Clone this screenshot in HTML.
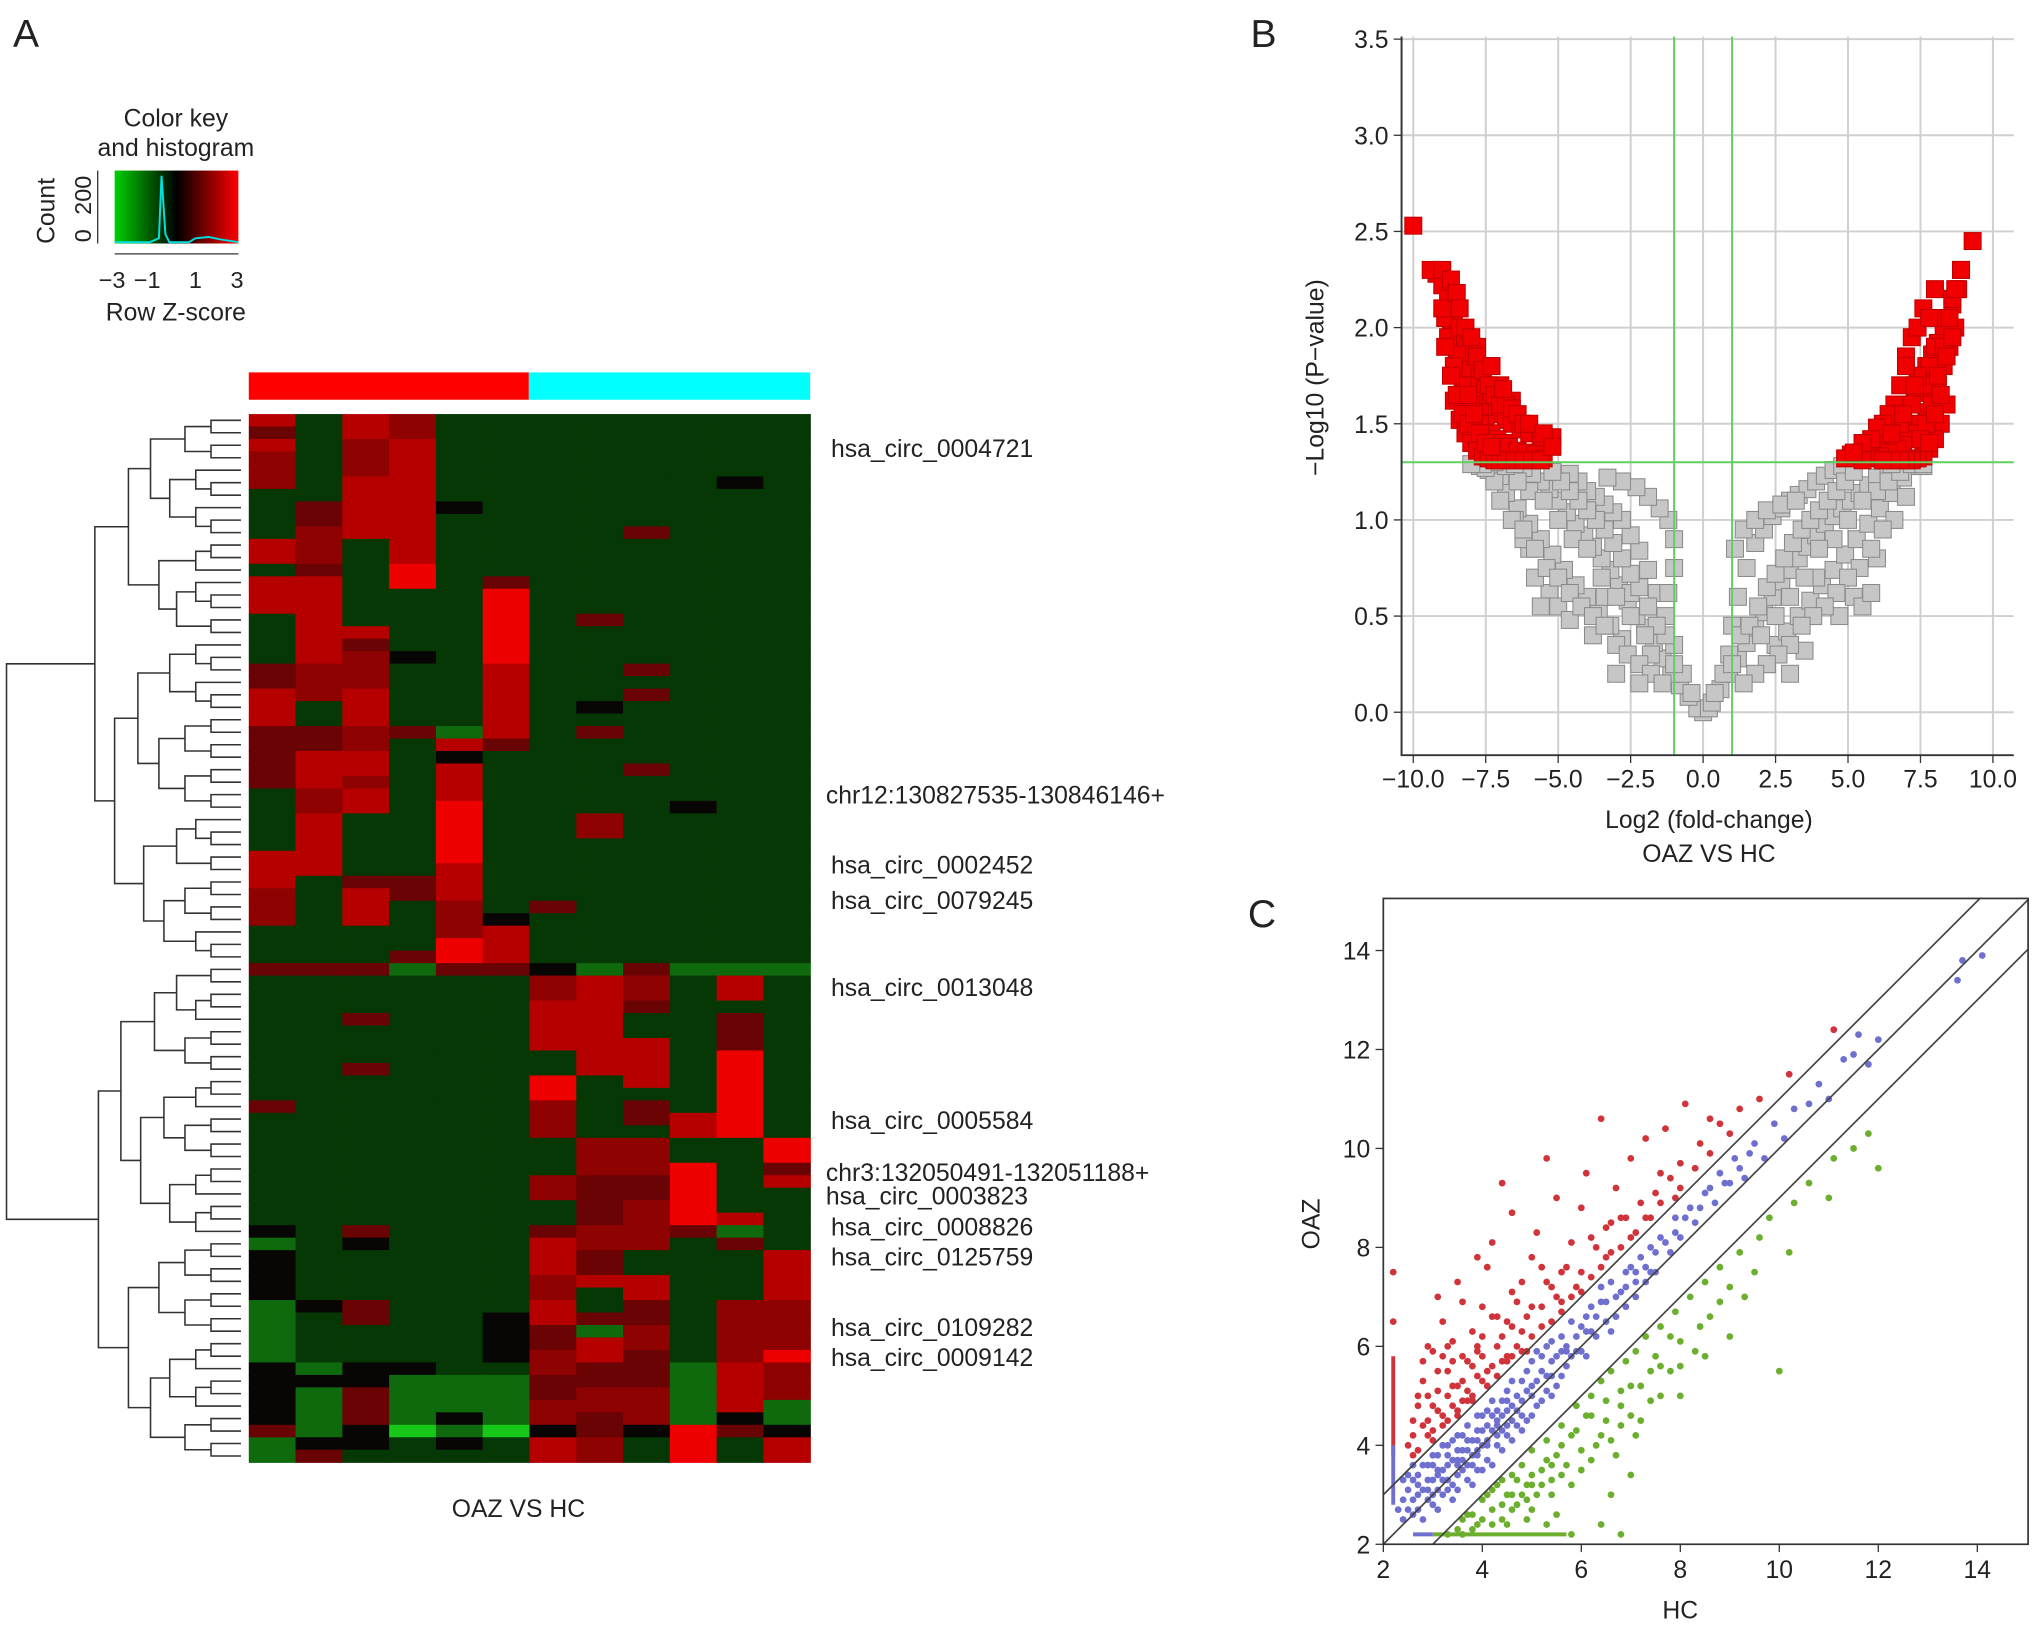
<!DOCTYPE html>
<html><head><meta charset="utf-8"><style>
html,body{margin:0;padding:0;background:#fff;}
svg{display:block;}
text{font-family:"Liberation Sans",Arial,sans-serif;fill:#222;}
</style></head><body>
<svg id="fig" xmlns="http://www.w3.org/2000/svg" width="2032" height="1625" viewBox="0 0 1560 1248" preserveAspectRatio="none">
<defs>
<linearGradient id="keyg" x1="0" x2="1" y1="0" y2="0">
<stop offset="0" stop-color="#00d000"/><stop offset="0.5" stop-color="#000"/><stop offset="1" stop-color="#ff0000"/>
</linearGradient>
<clipPath id="cclip"><rect x="1062" y="690" width="495" height="496"/></clipPath>
</defs>
<g id="panelA">
<text x="10" y="36" font-size="30">A</text>
<text x="135" y="97" font-size="19" text-anchor="middle">Color key</text>
<text x="135" y="120" font-size="19" text-anchor="middle">and histogram</text>
<rect x="88" y="131" width="95" height="56" fill="url(#keyg)"/>
<polyline points="88,186 115,186 122,183 124,135 127,180 130,186 145,186 150,183 160,182 170,184 183,186" fill="none" stroke="#00e0e0" stroke-width="1.5"/>
<text transform="translate(42,162) rotate(-90)" font-size="19" text-anchor="middle">Count</text>
<text transform="translate(70,186) rotate(-90)" font-size="18">0</text>
<text transform="translate(70,165) rotate(-90)" font-size="18">200</text>
<line x1="75" y1="131" x2="75" y2="187" stroke="#333"/>
<line x1="88" y1="195" x2="183" y2="195" stroke="#333"/>
<text x="86" y="221" font-size="18" text-anchor="middle">−3</text>
<text x="113" y="221" font-size="18" text-anchor="middle">−1</text>
<text x="150" y="221" font-size="18" text-anchor="middle">1</text>
<text x="182" y="221" font-size="18" text-anchor="middle">3</text>
<text x="135" y="246" font-size="19" text-anchor="middle">Row Z-score</text>
<rect x="191" y="286" width="215" height="21" fill="#ff0000"/>
<rect x="406" y="286" width="216" height="21" fill="#00ffff"/>
<g id="heat"></g>
<g id="dendro"></g>
<g font-size="19">
<text x="638" y="351">hsa_circ_0004721</text>
<text x="634" y="617">chr12:130827535-130846146+</text>
<text x="638" y="671">hsa_circ_0002452</text>
<text x="638" y="698">hsa_circ_0079245</text>
<text x="638" y="765">hsa_circ_0013048</text>
<text x="638" y="867">hsa_circ_0005584</text>
<text x="634" y="907">chr3:132050491-132051188+</text>
<text x="634" y="925">hsa_circ_0003823</text>
<text x="638" y="949">hsa_circ_0008826</text>
<text x="638" y="972">hsa_circ_0125759</text>
<text x="638" y="1026">hsa_circ_0109282</text>
<text x="638" y="1049">hsa_circ_0009142</text>
</g>
<text x="398" y="1165" font-size="19" text-anchor="middle">OAZ VS HC</text>
</g>
<g id="panelB">
<text x="960" y="36" font-size="30">B</text>
<g id="vgrid"></g>
<g id="vpts"></g>
<g id="vaxes"></g>
<text x="1312" y="636" font-size="19" text-anchor="middle">Log2 (fold-change)</text>
<text x="1312" y="662" font-size="19" text-anchor="middle">OAZ VS HC</text>
<text transform="translate(1016,290) rotate(-90)" font-size="19" text-anchor="middle">−Log10 (P−value)</text>
</g>
<g id="panelC">
<text x="958" y="712" font-size="30">C</text>
<g id="cpts" clip-path="url(#cclip)"></g>
<g id="caxes"></g>
<text x="1290" y="1243" font-size="19" text-anchor="middle">HC</text>
<text transform="translate(1013,940) rotate(-90)" font-size="19" text-anchor="middle">OAZ</text>
</g>
</svg>
<script>
const NS="http://www.w3.org/2000/svg";
// ---------- Heatmap data ----------
const heatCols=12, heatRows=84;
const heatLevels={g:"#063805",G:"#0e6a0c",L:"#18c818",k:"#080604",r:"#6a0303",m:"#8e0202",R:"#b60000",B:"#ee0000"};
const heatCol1=[[0,0,"R"],[1,1,"r"],[2,2,"R"],[3,5,"m"],[10,11,"R"],[13,15,"R"],[20,21,"r"],[22,24,"R"],[25,29,"r"],[35,37,"R"],[38,40,"m"],[44,44,"r"],[55,55,"r"],[65,65,"k"],[66,66,"G"],[67,70,"k"],[71,75,"G"],[76,80,"k"],[81,81,"r"],[82,83,"G"]];
const heatCol2=[[7,8,"r"],[9,11,"m"],[12,12,"r"],[13,15,"R"],[16,17,"R"],[18,19,"R"],[20,22,"m"],[25,26,"r"],[27,29,"R"],[30,31,"m"],[32,34,"R"],[35,36,"R"],[44,44,"r"],[71,71,"k"],[76,76,"G"],[77,77,"k"],[78,81,"G"],[82,82,"k"],[83,83,"r"]];
const heatCol3=[[0,1,"R"],[2,4,"m"],[5,9,"R"],[17,17,"R"],[18,18,"r"],[19,21,"m"],[22,24,"R"],[25,26,"m"],[27,28,"R"],[29,29,"m"],[30,31,"R"],[37,37,"r"],[38,40,"R"],[44,44,"r"],[48,48,"r"],[52,52,"r"],[65,65,"r"],[66,66,"k"],[71,72,"r"],[76,77,"k"],[78,80,"r"],[81,82,"k"]];
const heatCol4=[[0,1,"m"],[2,5,"R"],[6,11,"R"],[12,13,"B"],[19,19,"k"],[25,25,"r"],[37,38,"r"],[43,43,"r"],[44,44,"G"],[76,76,"k"],[77,80,"G"],[81,81,"L"]];
const heatCol5=[[7,7,"k"],[25,25,"G"],[26,26,"R"],[27,27,"k"],[28,30,"R"],[31,35,"B"],[36,38,"R"],[39,41,"m"],[42,43,"B"],[44,44,"r"],[77,79,"G"],[80,80,"k"],[81,81,"G"],[82,82,"k"]];
const heatCol6=[[13,13,"r"],[14,19,"B"],[20,22,"R"],[23,25,"R"],[26,26,"r"],[40,40,"k"],[41,43,"R"],[44,44,"r"],[72,75,"k"],[77,80,"G"],[81,81,"L"]];
const heatCol7=[[39,39,"r"],[44,44,"k"],[45,46,"m"],[47,50,"R"],[53,54,"B"],[55,57,"m"],[61,62,"m"],[65,65,"r"],[66,68,"R"],[69,70,"m"],[71,72,"R"],[73,74,"r"],[75,76,"m"],[77,78,"r"],[79,80,"m"],[81,81,"k"],[82,83,"R"]];
const heatCol8=[[16,16,"r"],[23,23,"k"],[25,25,"r"],[32,33,"m"],[44,44,"G"],[45,48,"R"],[49,52,"R"],[58,60,"m"],[61,64,"r"],[65,66,"m"],[67,68,"r"],[69,69,"R"],[72,72,"r"],[73,73,"G"],[74,75,"R"],[76,77,"r"],[78,79,"m"],[80,81,"r"],[82,83,"m"]];
const heatCol9=[[9,9,"r"],[20,20,"r"],[22,22,"r"],[28,28,"r"],[44,44,"r"],[45,46,"m"],[47,47,"r"],[50,53,"R"],[55,56,"r"],[58,60,"m"],[61,62,"r"],[63,66,"m"],[69,70,"R"],[71,72,"r"],[73,74,"m"],[75,77,"r"],[78,80,"m"],[81,81,"k"]];
const heatCol10=[[31,31,"k"],[44,44,"G"],[56,57,"R"],[60,64,"B"],[65,65,"r"],[76,80,"G"],[81,83,"B"]];
const heatCol11=[[5,5,"k"],[44,44,"G"],[45,46,"R"],[48,50,"r"],[51,57,"B"],[64,64,"R"],[65,65,"G"],[66,66,"r"],[71,75,"m"],[76,79,"R"],[80,80,"k"],[81,81,"r"]];
const heatCol12=[[44,44,"G"],[58,59,"B"],[60,60,"r"],[61,61,"R"],[67,70,"R"],[71,74,"m"],[75,75,"B"],[76,78,"m"],[79,80,"G"],[81,81,"k"],[82,83,"R"]];
const heatData=[heatCol1,heatCol2,heatCol3,heatCol4,heatCol5,heatCol6,heatCol7,heatCol8,heatCol9,heatCol10,heatCol11,heatCol12];

// ---------- Volcano data ----------
const volcX=[0,-0.2,0.2,-0.5,-0.8,-1.1,-1.4,-1.7,-2.0,-2.3,-2.6,-2.9,-3.2,-3.5,-3.8,-4.1,-4.4,-4.7,-5.0,-5.3,-5.6,-5.9,-6.2,-6.6,-7.0,-7.4,-7.7,
 -1.0,-1.3,-1.6,-1.9,-2.2,-2.5,-2.8,-3.1,-3.4,-3.7,-4.0,-4.3,-4.6,-1.2,-1.0,-1.0,-1.2,-1.5,-1.9,-2.3,-2.8,-3.3,
 -2.8,-3.2,-3.6,-4.0,-4.4,-4.8,-5.2,-5.6,-6.0,-6.4,-6.8,-7.2,-7.5,-5.3,-5.6,-5.0,-6.0,-6.5,-4.6,-5.8,-6.2,-3.4,-2.5,-3.8,-1.8,
 -10.0,-9.2,-9.0,-8.8,-8.6,-8.4,-8.2,-8.0,-7.8,-7.6,-7.4,-7.2,-7.0,-6.8,-6.6,-6.3,-6.0,-5.6,-5.2,
 -8.9,-8.7,-8.5,-8.3,-8.1,-7.9,-7.7,-7.5,-7.3,-7.1,-6.9,-6.7,-6.4,-6.1,-5.8,-5.5,
 -8.6,-8.4,-8.2,-8.0,-7.8,-7.6,-7.4,-7.2,-7.0,-6.8,-6.5,-6.2,-5.9,-5.6,-7.8,-7.4,-7.0,-6.6,-8.6,-8.3,-8.0,-7.7,-8.8,-9.0,-8.4,
 0.3,0.6,0.9,1.2,1.5,1.8,2.1,2.4,2.7,3.0,3.3,3.6,3.9,4.2,4.5,4.8,5.1,5.4,5.7,6.0,6.4,6.8,7.2,7.6,
 0.9,1.0,1.2,1.5,1.8,2.1,2.4,2.7,3.0,3.3,3.6,3.9,4.2,4.5,4.8,1.1,1.4,1.8,2.2,2.7,3.2,
 2.5,2.9,3.3,3.7,4.1,4.5,4.9,5.3,5.7,6.1,6.5,6.9,5.2,5.5,4.7,6.0,3.5,2.2,3.9,5.8,
 9.3,8.9,8.8,8.6,8.5,8.3,8.1,7.9,7.7,7.5,7.3,7.1,6.9,6.6,6.3,6.0,5.7,5.4,5.1,4.9,
 8.7,8.5,8.3,8.1,7.9,7.7,7.5,7.3,7.1,6.9,6.7,6.4,6.1,5.8,5.5,
 8.4,8.2,8.0,7.8,7.6,7.4,7.2,7.0,6.8,6.5,6.2,7.6,7.2,6.8,6.4,8.0,7.8,7.4,8.3,8.6,7.0];
const volcY=[0,0.02,0.02,0.08,0.14,0.2,0.28,0.36,0.44,0.5,0.58,0.66,0.74,0.8,0.86,0.92,0.98,1.04,1.1,1.16,1.2,1.24,1.27,1.25,1.22,1.26,1.28,
 0.35,0.5,0.62,0.74,0.84,0.92,1.0,1.04,1.08,1.12,1.15,1.2,1.24,0.62,0.75,0.9,1.0,1.06,1.12,1.17,1.2,1.22,
 0.38,0.45,0.52,0.6,0.66,0.74,0.82,0.9,0.98,1.06,1.14,1.2,1.27,0.62,0.55,0.55,0.85,1.0,0.48,0.7,0.9,0.6,0.62,0.4,0.3,
 2.53,2.28,2.22,2.15,2.06,1.98,1.9,1.82,1.74,1.68,1.62,1.58,1.55,1.52,1.5,1.47,1.45,1.43,1.43,
 2.05,1.96,1.86,1.78,1.7,1.62,1.56,1.5,1.45,1.42,1.4,1.38,1.36,1.35,1.34,1.32,
 1.62,1.52,1.45,1.4,1.36,1.33,1.32,1.31,1.31,1.31,1.31,1.31,1.31,1.31,1.9,1.8,1.7,1.62,1.8,1.7,1.6,1.5,1.95,2.1,2.0,
 0.05,0.12,0.2,0.28,0.36,0.44,0.52,0.6,0.68,0.74,0.8,0.86,0.92,0.98,1.02,1.06,1.1,1.14,1.18,1.22,1.25,1.27,1.28,1.28,
 0.3,0.45,0.6,0.75,0.88,0.95,1.02,1.06,1.1,1.13,1.16,1.2,1.23,1.26,1.28,0.85,0.95,1.0,1.05,1.08,1.1,
 0.35,0.42,0.5,0.58,0.66,0.74,0.82,0.9,0.98,1.06,1.14,1.22,0.6,0.55,0.5,0.8,0.32,0.25,0.7,0.62,
 2.45,2.3,2.2,2.12,2.05,1.98,1.92,1.86,1.8,1.73,1.66,1.6,1.54,1.48,1.44,1.4,1.37,1.35,1.34,1.32,
 2.0,1.9,1.8,1.7,1.62,1.56,1.5,1.45,1.42,1.39,1.37,1.35,1.33,1.32,1.31,
 1.6,1.5,1.42,1.37,1.33,1.32,1.31,1.31,1.31,1.31,1.31,1.7,1.6,1.5,1.45,1.9,1.8,1.75,2.05,2.15,1.85];
// additional points as [log2FC, -log10 p] pairs
const volcExtraLeft=[[-0.4,0.1],[-0.7,0.2],[-1.0,0.25],[-1.3,0.4],[-1.6,0.45],[-1.9,0.55],[-2.2,0.65],[-2.5,0.72],[-2.8,0.8],[-3.1,0.88],[-3.4,0.95],[-3.7,1.0],[-4.0,1.05],[-4.3,1.1],[-4.6,1.15],[-4.9,1.2],[-5.2,1.25],[-6.0,1.15],[-6.4,1.2],[-6.8,1.28],[-7.2,1.3],[-7.0,1.1],[-6.6,1.0],[-6.2,0.95],[-5.8,0.85],[-5.4,0.75],[-5.0,0.7],[-4.6,0.62],[-4.2,0.55],[-3.8,0.5],[-3.4,0.45],[-3.0,0.35],[-2.6,0.3],[-2.2,0.25],[-1.8,0.2],[-1.4,0.15],[-5.5,1.1],[-5.0,1.0],[-4.5,0.9],[-4.0,0.85],[-3.5,0.7],[-3.0,0.6],[-2.5,0.5],[-2.0,0.4],[-6.5,1.29],[-7.6,1.29],[-8.0,1.29],[-3.0,0.2],[-2.2,0.15],
 [-9.4,2.3],[-9.0,2.3],[-8.7,2.25],[-8.5,2.18],[-8.9,1.9],[-8.7,1.75],[-8.5,1.65],[-8.3,1.55],[-8.1,1.5],[-7.9,1.55],[-7.7,1.45],[-7.5,1.4],[-7.3,1.38],[-8.2,2.0],[-8.0,1.95],[-7.8,1.85],[-7.6,1.78],[-7.4,1.7],[-7.2,1.65],[-7.0,1.6],[-6.8,1.6],[-6.6,1.58],[-6.4,1.55],[-6.2,1.5],[-6.0,1.5],[-5.5,1.45],[-5.2,1.38],[-8.4,2.1],[-8.1,1.65],[-7.3,1.8],[-6.9,1.68]];
const volcExtraRight=[[0.4,0.1],[0.7,0.2],[1.0,0.25],[1.3,0.4],[1.6,0.45],[1.9,0.55],[2.2,0.65],[2.5,0.72],[2.8,0.8],[3.1,0.88],[3.4,0.95],[3.7,1.0],[4.0,1.05],[4.3,1.1],[4.6,1.15],[4.9,1.2],[5.2,1.25],[6.0,1.15],[6.4,1.2],[6.8,1.25],[7.2,1.29],[7.0,1.12],[6.6,1.0],[6.2,0.95],[5.8,0.85],[5.4,0.75],[5.0,0.7],[4.6,0.62],[4.2,0.55],[3.8,0.5],[3.4,0.45],[3.0,0.35],[2.6,0.3],[2.2,0.25],[1.8,0.2],[1.4,0.15],[5.5,1.1],[5.0,1.0],[4.5,0.9],[4.0,0.85],[3.5,0.7],[3.0,0.6],[2.5,0.5],[2.0,0.4],[6.5,1.29],[7.6,1.29],[3.0,0.2],
 [8.9,2.3],[8.7,2.2],[8.5,2.05],[8.3,1.9],[8.1,1.75],[7.9,1.6],[7.7,1.5],[7.5,1.42],[8.6,1.95],[8.4,1.85],[8.2,1.65],[8.0,1.55],[7.8,1.4],[7.2,1.95],[7.4,2.0],[7.6,2.1],[7.0,1.8],[6.8,1.7],[6.6,1.6],[6.4,1.55],[6.2,1.5],[6.0,1.48],[5.8,1.42],[5.5,1.4],[5.2,1.35],[7.8,2.05],[8.0,2.2],[7.3,1.7],[6.9,1.55],[6.5,1.45]];
const volcThreshY=1.3, volcThreshX=[-1,1];
const volcXTicks=["−10.0","−7.5","−5.0","−2.5","0.0","2.5","5.0","7.5","10.0"];
const volcXTickVals=[-10,-7.5,-5,-2.5,0,2.5,5,7.5,10];
const volcYTickVals=[0,0.5,1,1.5,2,2.5,3,3.5];
const volcYTicks=["0.0","0.5","1.0","1.5","2.0","2.5","3.0","3.5"];

// ---------- Scatter data ----------
const scatRed=[[2.6,4.2],[2.7,4.8],[2.8,5.3],[2.9,4.5],[3.0,5.9],[3.0,4.3],[3.1,5.1],[3.2,6.5],[3.2,4.6],[3.3,5.5],[3.4,4.8],[3.4,6.1],[3.5,5.2],[3.5,7.3],[3.6,4.9],[3.7,5.7],[3.8,6.3],[3.8,5.0],[3.9,5.4],[4.0,6.8],[4.0,5.3],[4.1,7.6],[4.2,5.6],[4.3,6.0],[4.4,5.7],[4.4,9.3],[4.5,6.5],[4.6,7.1],[4.7,6.0],[4.8,5.9],[4.9,6.6],[5.0,7.8],[5.0,6.2],[5.1,8.3],[5.2,6.8],[5.3,7.3],[5.4,6.5],[5.5,9.0],[5.5,7.0],[5.6,6.9],[5.7,7.6],[5.8,8.1],[5.9,7.2],[6.0,7.5],[6.0,8.8],[6.1,9.5],[6.2,7.4],[6.3,8.0],[6.4,10.6],[6.5,7.8],[6.6,8.5],[6.7,9.2],[6.8,8.0],[6.9,8.6],[7.0,9.8],[7.1,8.3],[7.2,8.9],[7.3,10.2],[7.4,8.6],[7.5,9.1],[7.6,8.9],[7.7,10.4],[7.8,9.4],[7.9,9.0],[8.0,9.7],[8.1,10.9],[8.3,9.6],[8.4,10.1],[8.6,9.9],[8.8,10.5],[9.0,10.3],[9.2,10.8],[9.6,11.0],[10.2,11.5],[11.1,12.4],[2.9,6.0],[3.1,7.0],[3.3,4.5],[3.6,6.9],[3.9,7.8],[4.2,8.1],[4.6,8.7],[5.3,9.8],[4.8,7.3],[3.0,4.1],[2.7,3.9],[3.5,4.7],[4.1,5.2],[2.2,7.5],[2.2,6.5],[4.6,5.8],[5.6,7.5],[6.5,8.4],[3.7,4.9],[3.2,5.8],[2.8,4.4],[3.1,4.7],[3.3,5.0],[3.6,5.3],[2.9,5.0],[3.4,5.7],[3.9,6.0],[4.3,6.6],[4.5,5.8],[5.2,7.6],[2.6,3.8],[3.8,5.6],[4.0,5.8]];
const scatRedExtra=[[2.5,4.0],[2.6,4.5],[2.7,5.0],[2.8,5.7],[2.9,4.2],[3.0,4.8],[3.1,5.5],[3.2,4.4],[3.3,6.0],[3.4,5.2],[3.5,4.6],[3.6,5.8],[3.7,5.1],[3.8,4.9],[3.9,5.9],[4.0,6.2],[4.1,5.5],[4.2,6.6],[4.3,5.4],[4.4,6.2],[4.5,5.7],[4.6,6.4],[4.7,6.9],[4.8,6.3],[4.9,5.9],[5.0,6.8],[5.2,6.4],[5.4,7.2],[5.6,6.7],[5.8,7.0],[6.0,7.1],[6.2,8.2],[6.4,7.6],[6.6,7.9],[6.8,8.6],[7.0,8.2],[7.3,8.6],[7.6,9.5],[8.0,9.2],[8.6,10.6]];
const scatBlue=[[2.6,2.9],[2.7,3.4],[2.8,3.1],[2.9,3.6],[3.0,2.8],[3.0,3.3],[3.1,3.8],[3.2,3.0],[3.2,3.5],[3.3,4.0],[3.4,3.2],[3.4,3.7],[3.5,4.2],[3.5,3.4],[3.6,3.9],[3.7,3.3],[3.7,4.4],[3.8,3.8],[3.9,4.3],[3.9,3.5],[4.0,4.0],[4.0,4.6],[4.1,3.7],[4.2,4.3],[4.2,4.9],[4.3,4.0],[4.4,4.6],[4.5,4.2],[4.5,5.1],[4.6,4.8],[4.7,4.4],[4.8,5.3],[4.8,4.9],[4.9,4.5],[5.0,5.2],[5.0,5.7],[5.1,4.8],[5.2,5.5],[5.3,6.0],[5.3,5.1],[5.4,5.7],[5.5,5.2],[5.6,6.2],[5.7,5.6],[5.8,6.5],[5.9,5.9],[6.0,6.4],[6.1,5.8],[6.2,6.8],[6.3,6.2],[6.4,6.9],[6.5,6.5],[6.6,7.3],[6.7,6.6],[6.8,7.1],[6.9,6.8],[7.0,7.6],[7.1,7.0],[7.2,7.8],[7.3,7.3],[7.4,8.0],[7.5,7.5],[7.6,8.2],[7.8,7.9],[7.9,8.6],[8.0,8.2],[8.2,8.8],[8.3,8.5],[8.5,9.1],[8.7,8.9],[8.8,9.5],[9.0,9.3],[9.1,9.8],[9.3,9.4],[9.5,10.1],[9.7,9.8],[9.9,10.5],[10.1,10.2],[10.3,10.8],[10.6,10.9],[10.8,11.3],[11.0,11.0],[11.3,11.8],[11.5,11.9],[11.6,12.3],[11.8,11.7],[12.0,12.2],[13.6,13.4],[13.7,13.8],[14.1,13.9],[2.5,3.1],[2.6,3.6],[2.8,2.5],[2.9,2.9],[3.0,3.8],[3.1,3.1],[3.3,3.6],[3.4,2.9],[3.6,3.5],[3.8,4.1],[3.8,3.2],[4.0,3.5],[4.1,4.4],[4.3,4.7],[4.4,3.9],[4.6,4.1],[4.7,5.0],[4.9,5.5],[5.1,5.9],[5.2,4.9],[5.4,6.1],[5.6,5.4],[5.8,5.8],[6.0,5.9],[6.2,6.3],[6.4,7.2],[6.6,6.3],[6.9,7.5],[7.1,7.3],[7.4,7.5],[2.7,3.0],[3.2,4.0],[3.5,3.9],[3.9,3.9],[4.2,3.6],[4.5,4.7],[4.8,4.3],[5.0,4.6],[2.3,2.7],[2.4,3.3],[2.6,2.6],[2.4,2.9],[2.9,3.3],[3.1,3.4],[3.3,3.3],[3.6,3.7],[3.7,4.1],[4.1,4.1],[4.4,4.3],[4.6,4.5],[2.7,2.7],[3.0,3.0],[3.5,3.6],[3.9,4.6],[4.3,4.4],[5.4,5.4],[5.7,6.0],[6.1,6.6]];
const scatBlueExtra=[[2.5,2.7],[2.7,3.2],[2.9,3.1],[3.1,3.5],[3.3,3.8],[3.5,3.7],[3.7,3.9],[3.9,4.1],[4.1,4.0],[4.3,4.5],[4.5,4.4],[4.7,4.7],[4.9,5.1],[5.1,5.3],[5.3,5.4],[5.5,5.8],[5.7,5.9],[5.9,6.2],[6.1,6.3],[6.3,6.6],[6.5,6.9],[6.7,7.0],[6.9,7.2],[7.1,7.5],[7.3,7.6],[7.5,7.9],[7.7,8.1],[7.9,8.3],[8.1,8.6],[8.4,8.8],[8.6,9.2],[8.9,9.3],[9.2,9.6],[9.4,9.9],[2.6,3.3],[2.8,3.6],[3.0,3.6],[3.2,3.3],[3.4,4.1],[3.6,4.2],[3.8,3.6],[4.0,4.3],[4.2,4.6],[4.4,4.9],[4.6,5.3],[4.8,4.6],[5.0,5.0],[5.2,5.8],[5.4,5.0],[5.6,5.9],[2.4,2.5],[2.5,3.4],[3.1,2.7],[3.3,3.1],[3.5,3.1],[3.7,3.6],[3.9,3.8],[4.1,4.7],[4.3,4.2],[4.5,4.9]];
const scatGreen=[[3.5,2.3],[3.7,2.6],[3.9,2.4],[4.0,2.9],[4.2,2.7],[4.3,3.2],[4.4,2.5],[4.5,3.0],[4.6,3.4],[4.7,2.8],[4.8,3.6],[4.9,3.2],[5.0,3.9],[5.1,3.0],[5.2,3.5],[5.3,4.1],[5.4,3.3],[5.5,3.8],[5.6,4.4],[5.7,3.6],[5.8,4.2],[5.9,4.8],[6.0,3.5],[6.1,4.6],[6.2,5.0],[6.3,4.0],[6.4,5.3],[6.5,4.5],[6.6,5.5],[6.7,3.8],[6.8,5.1],[6.9,5.7],[7.0,4.6],[7.1,5.9],[7.2,5.2],[7.3,6.2],[7.4,4.9],[7.5,5.8],[7.6,6.4],[7.8,5.5],[7.9,6.7],[8.0,6.1],[8.2,7.0],[8.3,5.9],[8.5,7.3],[8.6,6.6],[8.8,7.6],[9.0,7.2],[9.2,7.9],[9.5,7.5],[9.8,8.6],[10.0,5.5],[10.3,8.9],[10.6,9.3],[11.0,9.0],[11.1,9.8],[11.5,10.0],[11.8,10.3],[12.0,9.6],[4.1,3.0],[4.4,3.3],[4.7,3.3],[5.0,3.4],[5.3,3.7],[5.6,4.0],[5.9,4.3],[6.2,4.6],[6.5,4.9],[6.8,4.4],[7.1,4.2],[5.8,2.2],[6.4,2.4],[6.8,2.2],[7.0,3.4],[7.6,5.0],[8.0,5.0],[8.5,5.8],[9.0,6.2],[3.8,2.6],[4.2,3.1],[4.6,3.0],[5.0,3.2],[4.9,2.9],[5.4,3.6],[3.6,2.5]];
const scatGreenExtra=[[3.3,2.2],[3.6,2.2],[3.8,2.3],[4.0,2.5],[4.2,2.4],[4.4,2.8],[4.6,2.7],[4.8,3.0],[5.0,2.7],[5.2,3.2],[5.4,3.0],[5.6,3.4],[5.8,3.2],[6.0,3.9],[6.2,3.7],[6.4,4.2],[6.6,4.1],[6.8,4.8],[7.0,5.2],[7.2,4.5],[7.4,5.5],[7.6,5.6],[7.8,6.2],[8.0,5.6],[8.4,6.4],[8.8,6.9],[9.3,7.0],[9.6,8.2],[10.2,7.9],[4.5,2.4],[5.5,2.6],[6.6,3.0],[5.3,2.4],[4.9,2.5]];
const scatTicks=[2,4,6,8,10,12,14];
const scatLines=[1,0,-1];

function mk(tag,parent,attrs){const e=document.createElementNS(NS,tag);for(const k in attrs)e.setAttribute(k,attrs[k]);parent.appendChild(e);return e;}

// ---------- Heatmap ----------
const hx0=191,hx1=622,hy0=318,hy1=1123;
const cw=(hx1-hx0)/heatCols, rh=(hy1-hy0)/heatRows;
const heat=document.getElementById("heat");
heatData.forEach((segs,c)=>{
  const col=new Array(heatRows).fill("g");
  segs.forEach(s=>{for(let r=s[0];r<=s[1];r++)col[r]=s[2];});
  col.forEach((lv,r)=>{
    const el=mk("rect",heat,{x:hx0+c*cw,y:hy0+r*rh,width:cw+0.5,height:rh+0.5,fill:heatLevels[lv]});
    
    
  });
});
const dendro=document.getElementById("dendro");
const leafX=185;
function ly(r){return hy0+(r+0.5)*rh;}
function tree(a,b,depth){
  if(b-a===1)return [leafX,ly(a)];
  const n=b-a;
  const split=a+Math.max(1,Math.round(n*(depth%2?0.55:0.42)));
  const L=tree(a,split,depth+1),R=tree(split,b,depth+1);
  let x=leafX-20*Math.log2(n)-3;
  x=Math.min(x,Math.min(L[0],R[0])-4);
  const p=mk("path",dendro,{d:`M${L[0]},${L[1]}H${x}V${R[1]}H${R[0]}`,fill:"none",stroke:"#333","stroke-width":1.2});
  
  
  return [x,(L[1]+R[1])/2];
}
const up=tree(0,44,0),lo=tree(44,84,1);
const upX=58,loX=30;
const rp=mk("path",dendro,{d:`M${up[0]},${up[1]}H${upX}M${lo[0]},${lo[1]}H${loX}M${upX},${up[1]}H5V${lo[1]}H${loX}`,fill:"none",stroke:"#333","stroke-width":1.2});



// ---------- Volcano ----------
const vL=1076,vR=1546,vT=28,vB=580;
const vx=v=>1307.5+v*22.25, vy=v=>547-v*147.7;
const vgrid=document.getElementById("vgrid"),vpts=document.getElementById("vpts"),vaxes=document.getElementById("vaxes");
volcXTickVals.forEach((t,i)=>{
  const g=mk("line",vgrid,{x1:vx(t),x2:vx(t),y1:vT,y2:vB,stroke:"#cfcfcf","stroke-width":1.5});
  
  
  const tk=mk("line",vaxes,{x1:vx(t),x2:vx(t),y1:vB,y2:vB+6,stroke:"#333"});
  
  
  const tx=mk("text",vaxes,{x:vx(t),y:vB+25,"font-size":19,"text-anchor":"middle"});tx.textContent=volcXTicks[i];
  
  
});
volcYTickVals.forEach((t,i)=>{
  const g=mk("line",vgrid,{x1:vL,x2:vR,y1:vy(t),y2:vy(t),stroke:"#cfcfcf","stroke-width":1.5});
  
  
  const tk=mk("line",vaxes,{x1:vL-6,x2:vL,y1:vy(t),y2:vy(t),stroke:"#333"});
  
  
  const tx=mk("text",vaxes,{x:vL-10,y:vy(t)+7,"font-size":19,"text-anchor":"end"});tx.textContent=volcYTicks[i];
  
  
});
function vpoint(x,y){
  const sig=y>volcThreshY;
  const s=mk("rect",vpts,{x:vx(x)-6.5,y:vy(y)-6.5,width:13,height:13,fill:sig?"#f00000":"#c6c6c6",stroke:sig?"#c00000":"#8a8a8a","stroke-width":0.8});
  
  
}
const volcAll=volcX.map((x,i)=>[x,volcY[i]]).concat(volcExtraLeft,volcExtraRight);
volcAll.filter(p=>p[1]<=volcThreshY).forEach(p=>vpoint(p[0],p[1]));
volcAll.filter(p=>p[1]>volcThreshY).forEach(p=>vpoint(p[0],p[1]));
volcThreshX.forEach(t=>{
  const l=mk("line",vpts,{x1:vx(t),x2:vx(t),y1:vT,y2:vB,stroke:"#5fcf5f","stroke-width":1.5});
  
  
});
const hl=mk("line",vpts,{x1:vL,x2:vR,y1:vy(volcThreshY),y2:vy(volcThreshY),stroke:"#5fcf5f","stroke-width":1.5});


const vax=mk("path",vaxes,{d:`M${vL},${vT}V${vB}H${vR}`,fill:"none",stroke:"#333","stroke-width":1.5});



// ---------- Scatter ----------
const cL=1062,cR=1557,cT=690,cB=1186;
const cx=v=>1062+(v-2)*38, cy=v=>1186-(v-2)*38;
const cpts=document.getElementById("cpts"),caxes=document.getElementById("caxes");
function dots(arr,color,name){arr.forEach(p=>{
  const d=mk("circle",cpts,{cx:cx(p[0]),cy:cy(p[1]),r:2.6,fill:color});
  
  
});}
dots(scatGreen.concat(scatGreenExtra),"#6cae2e","scatter-point-down");
dots(scatBlue.concat(scatBlueExtra),"#6f6fd0","scatter-point-unchanged");
dots(scatRed.concat(scatRedExtra),"#d0343a","scatter-point-up");
[["#d0343a",2.2,3.8,2.2,5.8],["#6f6fd0",2.2,2.8,2.2,4.0]].forEach(b=>{
  const l=mk("line",cpts,{x1:cx(b[1]),y1:cy(b[2]),x2:cx(b[3]),y2:cy(b[4]),stroke:b[0],"stroke-width":3});
  
  
});
[["#6cae2e",3.0,5.7],["#6f6fd0",2.6,3.0]].forEach(b=>{
  const l=mk("line",cpts,{x1:cx(b[1]),y1:cy(2.2),x2:cx(b[2]),y2:cy(2.2),stroke:b[0],"stroke-width":3});
  
  
});
scatLines.forEach(o=>{
  const l=mk("line",cpts,{x1:cx(2),y1:cy(2+o),x2:cx(16),y2:cy(16+o),stroke:"#444","stroke-width":1.3});
  
  
});
const box=mk("rect",caxes,{x:cL,y:cT,width:cR-cL,height:cB-cT,fill:"none",stroke:"#333","stroke-width":1.3});


scatTicks.forEach(t=>{
  const a=mk("line",caxes,{x1:cx(t),x2:cx(t),y1:cB,y2:cB+6,stroke:"#333"});
  
  
  const tx=mk("text",caxes,{x:cx(t),y:cB+26,"font-size":19,"text-anchor":"middle"});tx.textContent=t;
  
  
  const b=mk("line",caxes,{x1:cL-6,x2:cL,y1:cy(t),y2:cy(t),stroke:"#333"});
  
  
  const ty=mk("text",caxes,{x:cL-10,y:cy(t)+7,"font-size":19,"text-anchor":"end"});ty.textContent=t;
  
  
});
</script>
</body></html>
